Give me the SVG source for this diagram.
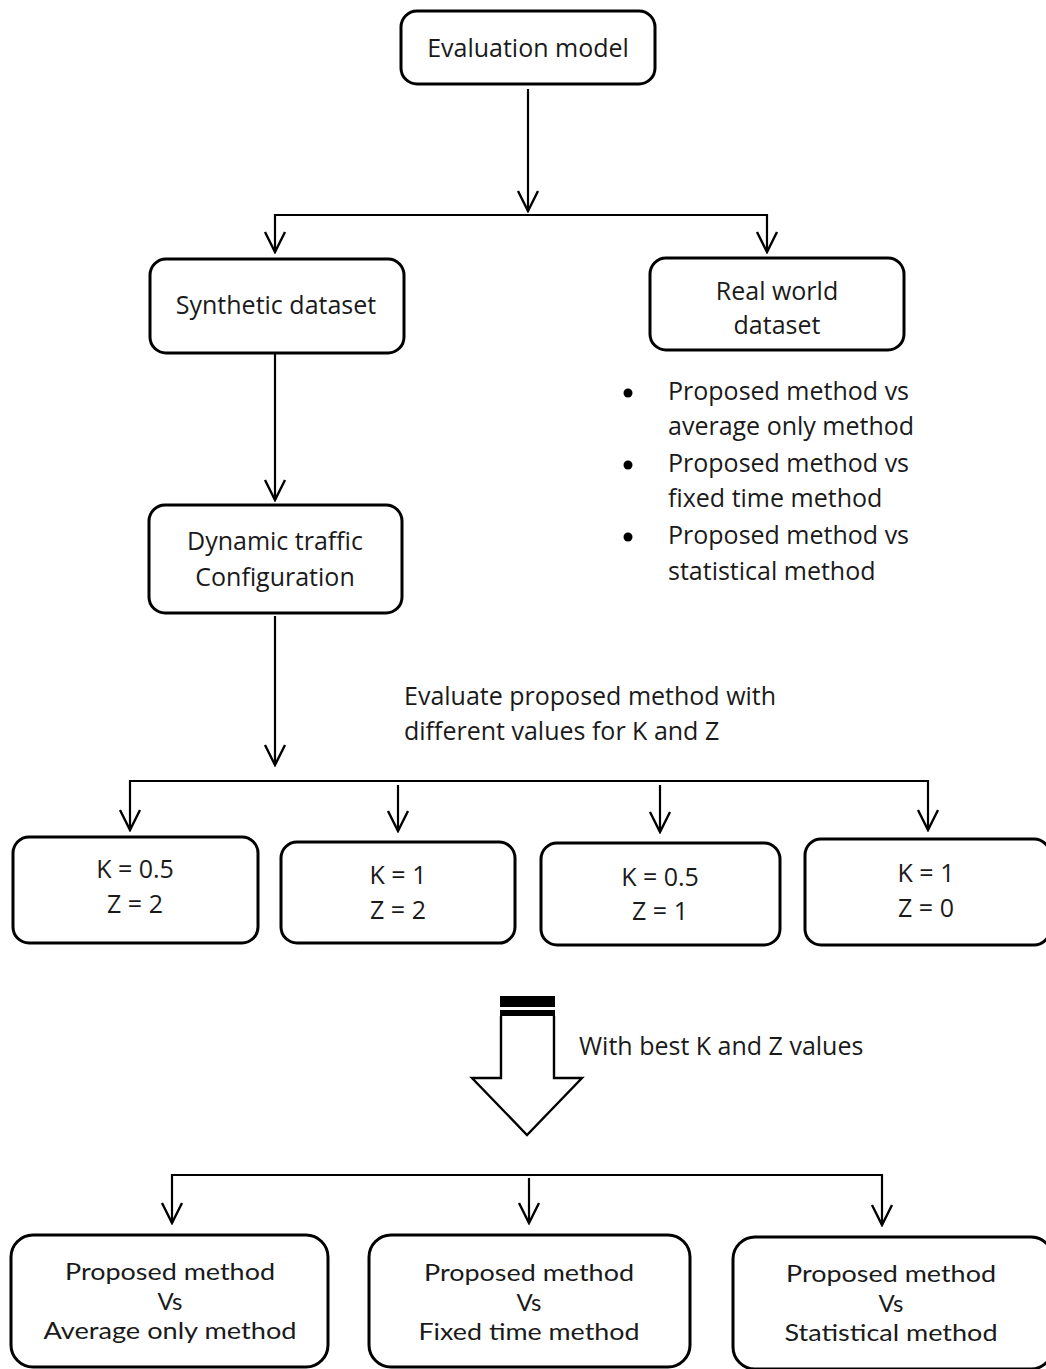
<svg xmlns="http://www.w3.org/2000/svg" width="1046" height="1369" viewBox="0 0 1046 1369">
<style>
.box{fill:#fff;stroke:#000;stroke-width:3}
.ln{fill:none;stroke:#000;stroke-width:2.2}
.t{font-family:"Open Sans","DejaVu Sans",sans-serif;font-size:25px;fill:#1a1a1a;text-anchor:middle}
.tl{font-family:"Open Sans","DejaVu Sans",sans-serif;font-size:25px;fill:#1a1a1a}
.tb{font-family:Lato,"Open Sans",sans-serif;font-size:24px;fill:#1a1a1a;text-anchor:middle}
</style>
<defs>
<marker id="ah" markerUnits="userSpaceOnUse" markerWidth="24" markerHeight="24" refX="22" refY="12" orient="auto-start-reverse" viewBox="0 0 24 24">
<polyline points="2,2 22,12 2,22" fill="none" stroke="#000" stroke-width="2.4"/>
</marker>
</defs>
<rect width="1046" height="1369" fill="#fff"/>
<g id="connectors">
<path class="ln" d="M528 89 V211" marker-end="url(#ah)"/>
<path class="ln" d="M275 252 V215 H767 V252" marker-start="url(#ah)" marker-end="url(#ah)"/>
<path class="ln" d="M275 353 V500" marker-end="url(#ah)"/>
<path class="ln" d="M275 616 V765" marker-end="url(#ah)"/>
<path class="ln" d="M130 830 V781 H928 V830" marker-start="url(#ah)" marker-end="url(#ah)"/>
<path class="ln" d="M398 785 V831" marker-end="url(#ah)"/>
<path class="ln" d="M660 785 V832" marker-end="url(#ah)"/>
<path class="ln" d="M172 1223 V1175 H882 V1225" marker-start="url(#ah)" marker-end="url(#ah)"/>
<path class="ln" d="M529 1178 V1223" marker-end="url(#ah)"/>
<g id="block-arrow">
<path d="M501 1016 V1078 H472 L527 1135 L582 1078 H554 V1016" fill="#fff" stroke="#000" stroke-width="2.4"/>
<rect x="500" y="996" width="55" height="11" fill="#000"/>
<rect x="500" y="1010" width="55" height="6" fill="#000"/>
</g>
</g>
<g id="n-eval"><rect class="box" x="401" y="11" width="254" height="73" rx="16"/><text class="t" x="528" y="57">Evaluation model</text></g>
<g id="n-synth"><rect class="box" x="150" y="259" width="254" height="94" rx="16"/><text class="t" x="276" y="314">Synthetic dataset</text></g>
<g id="n-real"><rect class="box" x="650" y="258" width="254" height="92" rx="16"/><text class="t" x="777" y="300">Real world</text><text class="t" x="777" y="334">dataset</text></g>
<g id="n-bullets">
<circle cx="628" cy="393" r="4.5" fill="#000"/><circle cx="628" cy="465" r="4.5" fill="#000"/><circle cx="628" cy="537" r="4.5" fill="#000"/>
<text class="tl" x="668" y="400">Proposed method vs</text>
<text class="tl" x="668" y="435">average only method</text>
<text class="tl" x="668" y="472">Proposed method vs</text>
<text class="tl" x="668" y="507">fixed time method</text>
<text class="tl" x="668" y="544">Proposed method vs</text>
<text class="tl" x="668" y="580">statistical method</text>
</g>
<g id="n-dyn"><rect class="box" x="149" y="505" width="253" height="108" rx="16"/><text class="t" x="275" y="550">Dynamic traffic</text><text class="t" x="275" y="586">Configuration</text></g>
<g id="n-evaltext"><text class="tl" x="404" y="705">Evaluate proposed method with</text><text class="tl" x="404" y="740">different values for K and Z</text></g>
<g id="n-k1"><rect class="box" x="13" y="837" width="245" height="106" rx="16"/><text class="t" x="135" y="878">K = 0.5</text><text class="t" x="135" y="913">Z = 2</text></g>
<g id="n-k2"><rect class="box" x="281" y="842" width="234" height="101" rx="16"/><text class="t" x="398" y="884">K = 1</text><text class="t" x="398" y="919">Z = 2</text></g>
<g id="n-k3"><rect class="box" x="541" y="843" width="239" height="102" rx="16"/><text class="t" x="660" y="886">K = 0.5</text><text class="t" x="660" y="920">Z = 1</text></g>
<g id="n-k4"><rect class="box" x="805" y="839" width="245" height="106" rx="16"/><text class="t" x="926" y="882">K = 1</text><text class="t" x="926" y="917">Z = 0</text></g>
<g id="n-best"><text class="tl" x="579" y="1055">With best K and Z values</text></g>
<g id="n-b1"><rect class="box" x="11" y="1235" width="317" height="132" rx="22"/><text class="tb" x="170" y="1280" textLength="210" lengthAdjust="spacingAndGlyphs">Proposed method</text><text class="tb" x="170" y="1309.5">Vs</text><text class="tb" x="170" y="1339" textLength="253" lengthAdjust="spacingAndGlyphs">Average only method</text></g>
<g id="n-b2"><rect class="box" x="369" y="1235" width="321" height="132" rx="22"/><text class="tb" x="529" y="1281" textLength="210" lengthAdjust="spacingAndGlyphs">Proposed method</text><text class="tb" x="529" y="1310.5">Vs</text><text class="tb" x="529" y="1340" textLength="221" lengthAdjust="spacingAndGlyphs">Fixed time method</text></g>
<g id="n-b3"><rect class="box" x="733" y="1237" width="320" height="132" rx="22"/><text class="tb" x="891" y="1282" textLength="210" lengthAdjust="spacingAndGlyphs">Proposed method</text><text class="tb" x="891" y="1311.5">Vs</text><text class="tb" x="891" y="1341" textLength="213" lengthAdjust="spacingAndGlyphs">Statistical method</text></g>
</svg>
